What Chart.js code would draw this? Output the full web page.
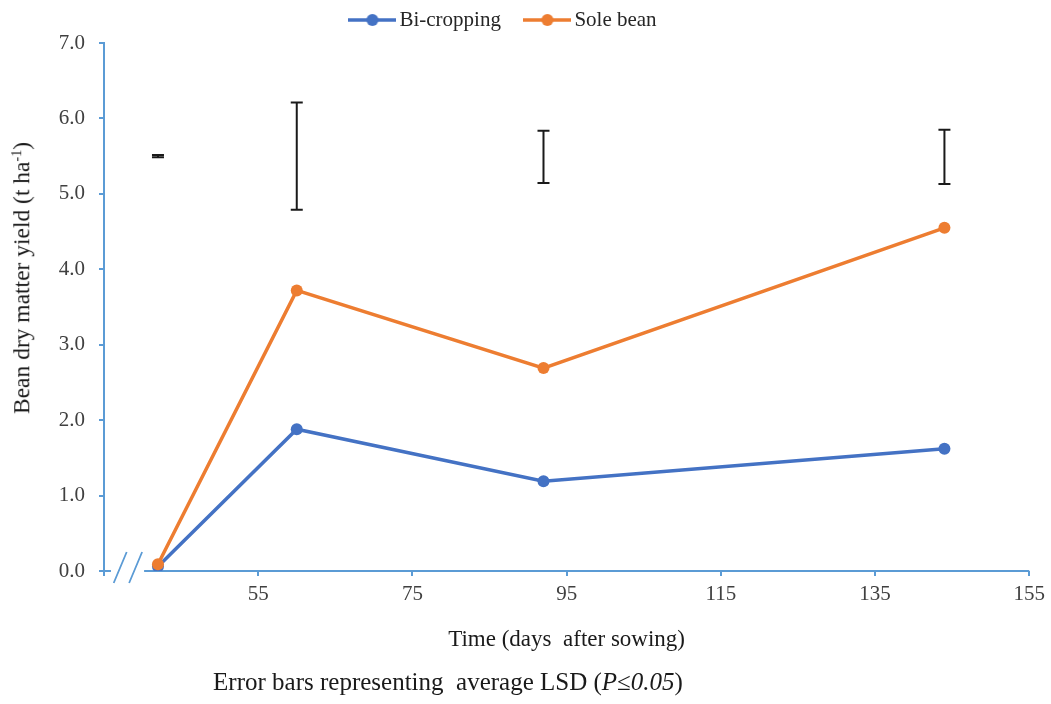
<!DOCTYPE html>
<html>
<head>
<meta charset="utf-8">
<script src="https://cdn.jsdelivr.net/npm/chart.js@4.4.1/dist/chart.umd.min.js"></script>
<style>
html,body{margin:0;padding:0;background:#fff;}
#wrap{position:relative;width:1051px;height:704px;overflow:hidden;}
#caption{position:absolute;left:0;top:669px;width:896px;text-align:center;font:25px/25px "Liberation Serif","Times New Roman",serif;color:#1a1a1a;white-space:pre;}
#ytitle{position:absolute;left:22px;top:278px;transform:translate(-50%,-50%) rotate(-90deg);white-space:nowrap;font:23.5px/1 "Liberation Serif","Times New Roman",serif;color:#1a1a1a;}
#ytitle sup{font-size:60%;vertical-align:0.55em;line-height:0;}
</style>
</head>
<body>
<div id="wrap">
<canvas id="c" width="1051" height="704"></canvas>
<div id="ytitle">Bean dry matter yield (t ha<sup>-1</sup>)</div>
<div id="caption">Error bars representing  average LSD (<i>P</i>≤<i>0.05</i>)</div>
</div>
<script>
// ---- data ----
const seriesNames = ['Bi-cropping', 'Sole bean'];
const days = [42, 60, 92, 144];
const biCropping = [0.06, 1.88, 1.19, 1.62];
const soleBean = [0.09, 3.72, 2.69, 4.55];
const lsdCentre = [5.50, 5.50, 5.49, 5.49];
const lsdValues = [0.03, 1.42, 0.69, 0.72];
const xTickValues = [35, 55, 75, 95, 115, 135, 155];
const yTickValues = [0, 1, 2, 3, 4, 5, 6, 7];
const axisBreak = [35.9, 40.2];
const breakMarks = [37.1, 39.1];

// ---- style ----
const FONT = "'Liberation Serif', 'Times New Roman', serif";
const AXIS = '#5B9BD5';
const BLUE = '#4472C4';
const ORANGE = '#ED7D31';
const TICK = '#404040';
Chart.defaults.font.family = FONT;

function legendIcon(color) {
  const c = document.createElement('canvas');
  c.width = 48; c.height = 14;
  const g = c.getContext('2d');
  g.strokeStyle = color; g.lineWidth = 3.5;
  g.beginPath(); g.moveTo(0, 7); g.lineTo(48, 7); g.stroke();
  g.fillStyle = color;
  g.beginPath(); g.arc(24, 7, 6, 0, Math.PI * 2); g.fill();
  return c;
}
const icons = [legendIcon(BLUE), legendIcon(ORANGE)];

const legendTweak = {
  id: 'legendTweak',
  beforeLayout(chart) {
    const lg = chart.legend;
    if (lg && !lg.__tweaked) {
      const f = lg.fit;
      lg.fit = function () {
        f.call(this);
        this.height += 2.5;
        if (this.lineWidths && this.lineWidths.length) this.lineWidths[0] += 19.5;
      };
      lg.__tweaked = true;
    }
  }
};

const axisWithBreak = {
  id: 'axisWithBreak',
  beforeDatasetsDraw(chart) {
    const {ctx, scales: {x, y}} = chart;
    const yy = y.getPixelForValue(0);
    ctx.save();
    ctx.strokeStyle = AXIS;
    ctx.lineWidth = 2;
    ctx.beginPath();
    ctx.moveTo(x.left, yy); ctx.lineTo(x.getPixelForValue(axisBreak[0]), yy);
    ctx.moveTo(x.getPixelForValue(axisBreak[1]), yy); ctx.lineTo(x.right, yy);
    ctx.stroke();
    ctx.lineWidth = 1.8;
    ctx.beginPath();
    breakMarks.forEach(v => {
      const px = x.getPixelForValue(v);
      ctx.moveTo(px - 6.5, yy + 12); ctx.lineTo(px + 6.5, yy - 19);
    });
    ctx.stroke();
    ctx.restore();
  }
};

const lsdBars = {
  id: 'lsdBars',
  afterDatasetsDraw(chart) {
    const {ctx, scales: {x, y}} = chart;
    ctx.save();
    ctx.strokeStyle = '#1a1a1a';
    ctx.lineWidth = 2;
    days.forEach((d, i) => {
      const px = x.getPixelForValue(d);
      const top = y.getPixelForValue(lsdCentre[i] + lsdValues[i] / 2);
      const bot = y.getPixelForValue(lsdCentre[i] - lsdValues[i] / 2);
      ctx.beginPath();
      ctx.moveTo(px, top); ctx.lineTo(px, bot);
      ctx.moveTo(px - 6, top); ctx.lineTo(px + 6, top);
      ctx.moveTo(px - 6, bot); ctx.lineTo(px + 6, bot);
      ctx.stroke();
    });
    ctx.restore();
  }
};

const toPoints = arr => days.map((d, i) => ({x: d, y: arr[i]}));

new Chart(document.getElementById('c'), {
  type: 'line',
  data: {
    datasets: [
      {label: seriesNames[0], data: toPoints(biCropping), borderColor: BLUE, backgroundColor: BLUE,
       pointBackgroundColor: BLUE, pointBorderColor: BLUE, borderWidth: 3.5, pointRadius: 6, pointBorderWidth: 0, tension: 0, order: 1},
      {label: seriesNames[1], data: toPoints(soleBean), borderColor: ORANGE, backgroundColor: ORANGE,
       pointBackgroundColor: ORANGE, pointBorderColor: ORANGE, borderWidth: 3.5, pointRadius: 6, pointBorderWidth: 0, tension: 0, order: 0}
    ]
  },
  options: {
    responsive: false,
    animation: false,
    devicePixelRatio: 1,
    layout: {padding: {top: -20.5, right: 19, bottom: 50, left: 0}},
    plugins: {
      tooltip: {enabled: false},
      legend: {
        display: true,
        position: 'top',
        labels: {
          usePointStyle: true,
          pointStyleWidth: 33,
          padding: 30,
          color: '#262626',
          font: {family: FONT, size: 21},
          generateLabels: (chart) => chart.data.datasets.map((ds, i) => ({
            text: ds.label, pointStyle: icons[i], fillStyle: ds.borderColor, strokeStyle: ds.borderColor,
            lineWidth: 0, hidden: false, datasetIndex: i, fontColor: '#262626'
          }))
        }
      }
    },
    scales: {
      x: {
        type: 'linear', min: 35, max: 155,
        afterBuildTicks: s => { s.ticks = xTickValues.map(v => ({value: v})); },
        afterFit: s => { s.height = 83; },
        border: {display: false},
        grid: {display: true, drawOnChartArea: false, drawTicks: true, tickLength: 5, color: AXIS, lineWidth: 2},
        ticks: {padding: 6, color: TICK, font: {family: FONT, size: 21}, maxRotation: 0, autoSkip: false,
                callback: v => (v === xTickValues[0] ? '' : String(v))},
        title: {display: true, text: 'Time (days  after sowing)', color: '#1a1a1a',
                font: {family: FONT, size: 23}, padding: {top: 0, bottom: 0}}
      },
      y: {
        type: 'linear', min: 0, max: 7,
        afterBuildTicks: s => { s.ticks = yTickValues.map(v => ({value: v})); },
        afterFit: s => { s.width = 104; },
        border: {display: true, color: AXIS, width: 2},
        grid: {display: true, drawOnChartArea: false, drawTicks: true, tickLength: 5, color: AXIS, lineWidth: 2},
        ticks: {padding: 14, color: TICK, font: {family: FONT, size: 21}, callback: v => Number(v).toFixed(1)},
        title: {display: false}
      }
    }
  },
  plugins: [legendTweak, axisWithBreak, lsdBars]
});
</script>
</body>
</html>
